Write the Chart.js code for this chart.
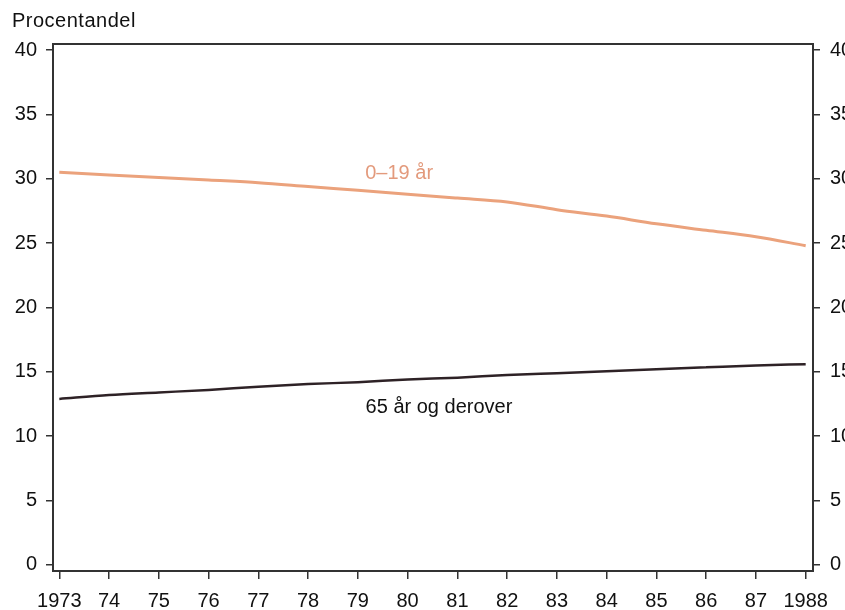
<!DOCTYPE html>
<html>
<head>
<meta charset="utf-8">
<script src="https://cdn.jsdelivr.net/npm/chart.js@4/dist/chart.umd.min.js"></script>
<style>
  html, body { margin: 0; padding: 0; background: #fff; overflow: hidden; }
  #wrap { width: 870px; height: 610px; }
</style>
</head>
<body>
<div id="wrap"><canvas id="myChart" width="870" height="610"></canvas></div>
<script>
// data
const years = [1973, 1974, 1975, 1976, 1977, 1978, 1979, 1980, 1981, 1982, 1983, 1984, 1985, 1986, 1987, 1988];
const yearLabels = ['1973', '74', '75', '76', '77', '78', '79', '80', '81', '82', '83', '84', '85', '86', '87', '1988'];
const young = [30.5, 30.3, 30.1, 29.9, 29.7, 29.4, 29.1, 28.8, 28.5, 28.2, 27.6, 27.1, 26.5, 26.0, 25.5, 24.8];
const old = [12.9, 13.2, 13.4, 13.6, 13.85, 14.05, 14.2, 14.4, 14.55, 14.75, 14.9, 15.05, 15.2, 15.35, 15.5, 15.6];
const yTicks = [0, 5, 10, 15, 20, 25, 30, 35, 40];

const FONT = '"Liberation Sans", Arial, Helvetica, sans-serif';
const ORANGE = '#EBA27C';
const DARK = '#2E2226';
const AXIS = '#333';

const chartElem = document.getElementById('myChart').getContext('2d');

// text + frame
const extras = {
    id: 'extras',
    afterDraw(chart) {
        const ctx = chart.ctx;
        const a = chart.chartArea;
        const xs = chart.scales.x, ys = chart.scales.y;
        ctx.save();
        ctx.strokeStyle = AXIS;
        ctx.lineWidth = 2;
        ctx.strokeRect(a.left, a.top, a.right - a.left, a.bottom - a.top);

        ctx.fillStyle = '#111';
        ctx.font = '20px ' + FONT;
        ctx.textAlign = 'left';
        ctx.textBaseline = 'alphabetic';
        ctx.letterSpacing = '0.5px';
        ctx.fillText('Procentandel', 12, 27);
        ctx.letterSpacing = '0px';

        ctx.font = '20px ' + FONT;
        ctx.textAlign = 'center';
        ctx.fillStyle = '#E39A7C';
        ctx.fillText('0–19 år', xs.getPixelForValue(1979.83), ys.getPixelForValue(30.0));
        ctx.fillStyle = '#111';
        ctx.fillText('65 år og derover', xs.getPixelForValue(1980.63), ys.getPixelForValue(11.8));
        ctx.restore();
    }
};

const yAxis = (pos, w) => ({
    type: 'linear',
    position: pos,
    min: -0.47,
    max: 40.47,
    afterBuildTicks: s => { s.ticks = yTicks.map(v => ({ value: v })); },
    afterFit: s => { s.width = w; },
    border: { display: false },
    grid: { drawOnChartArea: false, drawTicks: true, tickLength: 7, color: AXIS, lineWidth: 1.5 },
    ticks: { color: '#111', font: { family: FONT, size: 20 }, padding: pos === 'left' ? 9 : 10 }
});

let chart = new Chart(chartElem, {
    type: 'line',
    data: {
        datasets: [
            {
                label: '0–19 år',
                data: years.map((y, i) => ({ x: y, y: young[i] })),
                borderColor: ORANGE,
                borderWidth: 3,
                pointRadius: 0,
                cubicInterpolationMode: 'monotone'
            },
            {
                label: '65 år og derover',
                data: years.map((y, i) => ({ x: y, y: old[i] })),
                borderColor: DARK,
                borderWidth: 2.5,
                pointRadius: 0,
                cubicInterpolationMode: 'monotone'
            }
        ]
    },
    options: {
        responsive: false,
        animation: false,
        layout: { padding: { top: 44, left: 0, right: 0, bottom: 0 } },
        plugins: { legend: { display: false }, tooltip: { enabled: false } },
        scales: {
            x: {
                type: 'linear',
                min: 1972.873,
                max: 1988.147,
                afterBuildTicks: s => { s.ticks = years.map(v => ({ value: v })); },
                afterFit: s => { s.height = 39; },
                border: { display: false },
                grid: { drawOnChartArea: false, drawTicks: true, tickLength: 8, color: AXIS, lineWidth: 1.5 },
                ticks: {
                    color: '#111',
                    font: { family: FONT, size: 20 },
                    padding: 10,
                    maxRotation: 0,
                    autoSkip: false,
                    callback: (v) => yearLabels[years.indexOf(v)]
                }
            },
            y: yAxis('left', 53),
            y2: yAxis('right', 57)
        }
    },
    plugins: [extras]
});
</script>
</body>
</html>
